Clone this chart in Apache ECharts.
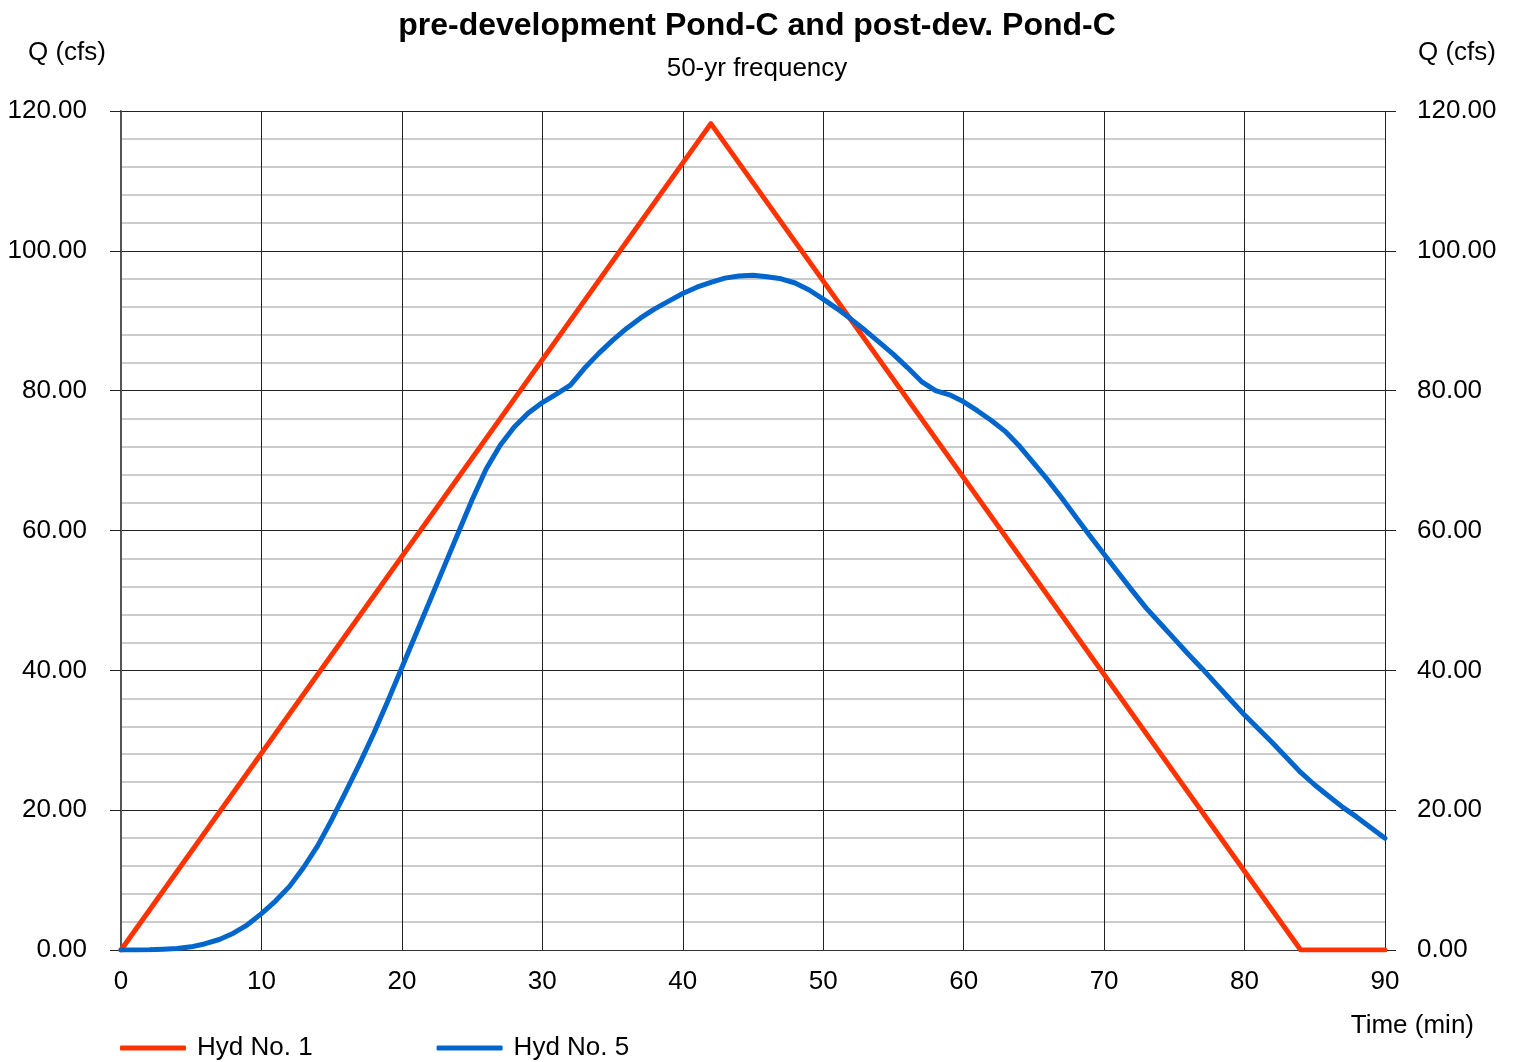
<!DOCTYPE html>
<html><head><meta charset="utf-8">
<script src="https://cdn.jsdelivr.net/npm/echarts@6/dist/echarts.min.js"></script>
<style>html,body{margin:0;padding:0;background:#fff}#c{width:1514px;height:1062px}</style>
</head><body><div id="c"></div>
<script>
const titleText = 'pre-development Pond-C and post-dev. Pond-C';
const subtitleText = '50-yr frequency';
const xTicks = [0,10,20,30,40,50,60,70,80,90];
const yTicks = [0,20,40,60,80,100,120];
const hyd1Time = [0, 42, 84, 90];
const hyd1Q = [0, 118.2, 0, 0];
const hyd5Time = [0,1,2,3,4,5,6,7,8,9,10,11,12,13,14,15,16,17,18,19,20,21,22,23,24,25,26,27,28,29,30,31,32,33,34,35,36,37,38,39,40,41,42,43,44,45,46,47,48,49,50,51,52,53,54,55,56,57,58,59,60,61,62,63,64,65,66,67,68,69,70,71,72,73,74,75,76,77,78,79,80,81,82,83,84,85,86,87,88,89,90];
const hyd5Q = [0,0,0.02,0.1,0.2,0.45,0.9,1.5,2.4,3.6,5.2,7.0,9.1,11.8,14.9,18.6,22.6,26.7,31.0,35.6,40.4,45.2,50.0,54.8,59.6,64.4,68.8,72.2,74.8,76.8,78.3,79.5,80.8,83.2,85.3,87.2,88.9,90.4,91.7,92.8,93.9,94.8,95.5,96.1,96.4,96.5,96.3,96.0,95.4,94.4,93.1,91.7,90.2,88.6,86.9,85.2,83.3,81.3,80.0,79.4,78.4,77.1,75.7,74.1,72.0,69.6,67.2,64.6,61.9,59.2,56.6,54.0,51.4,48.9,46.7,44.5,42.3,40.2,38.0,35.8,33.6,31.6,29.6,27.5,25.4,23.6,22.0,20.4,19.0,17.5,16.0];
const seriesNames = ['Hyd No. 1','Hyd No. 5'];
const yAxisName = 'Q (cfs)';
const xAxisName = 'Time (min)';

const FONT = 'Liberation Sans, Arial, sans-serif';
const FS = 26;
const chart = echarts.init(document.getElementById('c'));
const yAxisBase = {
  type: 'value', min: yTicks[0], max: yTicks[yTicks.length-1], interval: 20,
  axisLine: {show: false},
  axisTick: {show: true, length: 11, lineStyle: {color: '#222', width: 1}},
  splitLine: {show: true, lineStyle: {color: '#222', width: 1}},
  minorTick: {show: false, splitNumber: 5},
  minorSplitLine: {show: true, lineStyle: {color: '#cccccc', width: 2}},
  axisLabel: {fontFamily: FONT, fontSize: FS, color: '#000', padding: [3,0,0,0], formatter: v => v.toFixed(2)}
};
chart.setOption({
  animation: false,
  backgroundColor: '#fff',
  title: [
    {text: titleText, left: 'center', top: 5, textStyle: {fontFamily: FONT, fontWeight: 'bold', fontSize: 32, color: '#000'}},
    {text: subtitleText, left: 'center', top: 51, textStyle: {fontFamily: FONT, fontWeight: 'normal', fontSize: 26, color: '#000'}}
  ],
  grid: {left: 121, right: 129, top: 111, bottom: 112, containLabel: false},
  xAxis: {
    type: 'value', min: 0, max: 90, interval: 10,
    axisLine: {show: true, lineStyle: {color: '#333', width: 1}},
    axisTick: {show: false},
    splitLine: {show: true, lineStyle: {color: '#222', width: 1}},
    axisLabel: {fontFamily: FONT, fontSize: FS, color: '#000', margin: 19}
  },
  yAxis: [
    Object.assign({}, yAxisBase, {position: 'left', axisLine: {show: true, lineStyle: {color: '#555', width: 2}}, axisLabel: Object.assign({}, yAxisBase.axisLabel, {margin: 34})}),
    Object.assign({}, yAxisBase, {position: 'right', splitLine: {show: false}, minorSplitLine: {show: false}, axisLabel: Object.assign({}, yAxisBase.axisLabel, {margin: 32})})
  ],
  legend: {
    left: 115, top: 1030, itemWidth: 66, itemHeight: 5, itemGap: 124,
    icon: 'roundRect',
    textStyle: {fontFamily: FONT, fontSize: FS, color: '#000', padding: [0,0,0,6]},
    data: seriesNames
  },
  graphic: [
    {type: 'text', left: 28, top: 40, style: {text: yAxisName, font: FS + 'px ' + FONT, fill: '#000'}},
    {type: 'text', right: 18, top: 40, style: {text: yAxisName, font: FS + 'px ' + FONT, fill: '#000'}},
    {type: 'text', right: 40, top: 1013, style: {text: xAxisName, font: FS + 'px ' + FONT, fill: '#000'}}
  ],
  series: [
    {name: seriesNames[0], type: 'line', yAxisIndex: 0, showSymbol: false, smooth: false,
     lineStyle: {color: '#ff3300', width: 5, cap: 'round', join: 'round'}, itemStyle: {color: '#ff3300'},
     data: hyd1Time.map((t, i) => [t, hyd1Q[i]])},
    {name: seriesNames[1], type: 'line', yAxisIndex: 0, showSymbol: false, smooth: false,
     lineStyle: {color: '#0066cc', width: 5, cap: 'round', join: 'round'}, itemStyle: {color: '#0066cc'},
     data: hyd5Time.map((t, i) => [t, hyd5Q[i]])}
  ]
});
</script></body></html>
